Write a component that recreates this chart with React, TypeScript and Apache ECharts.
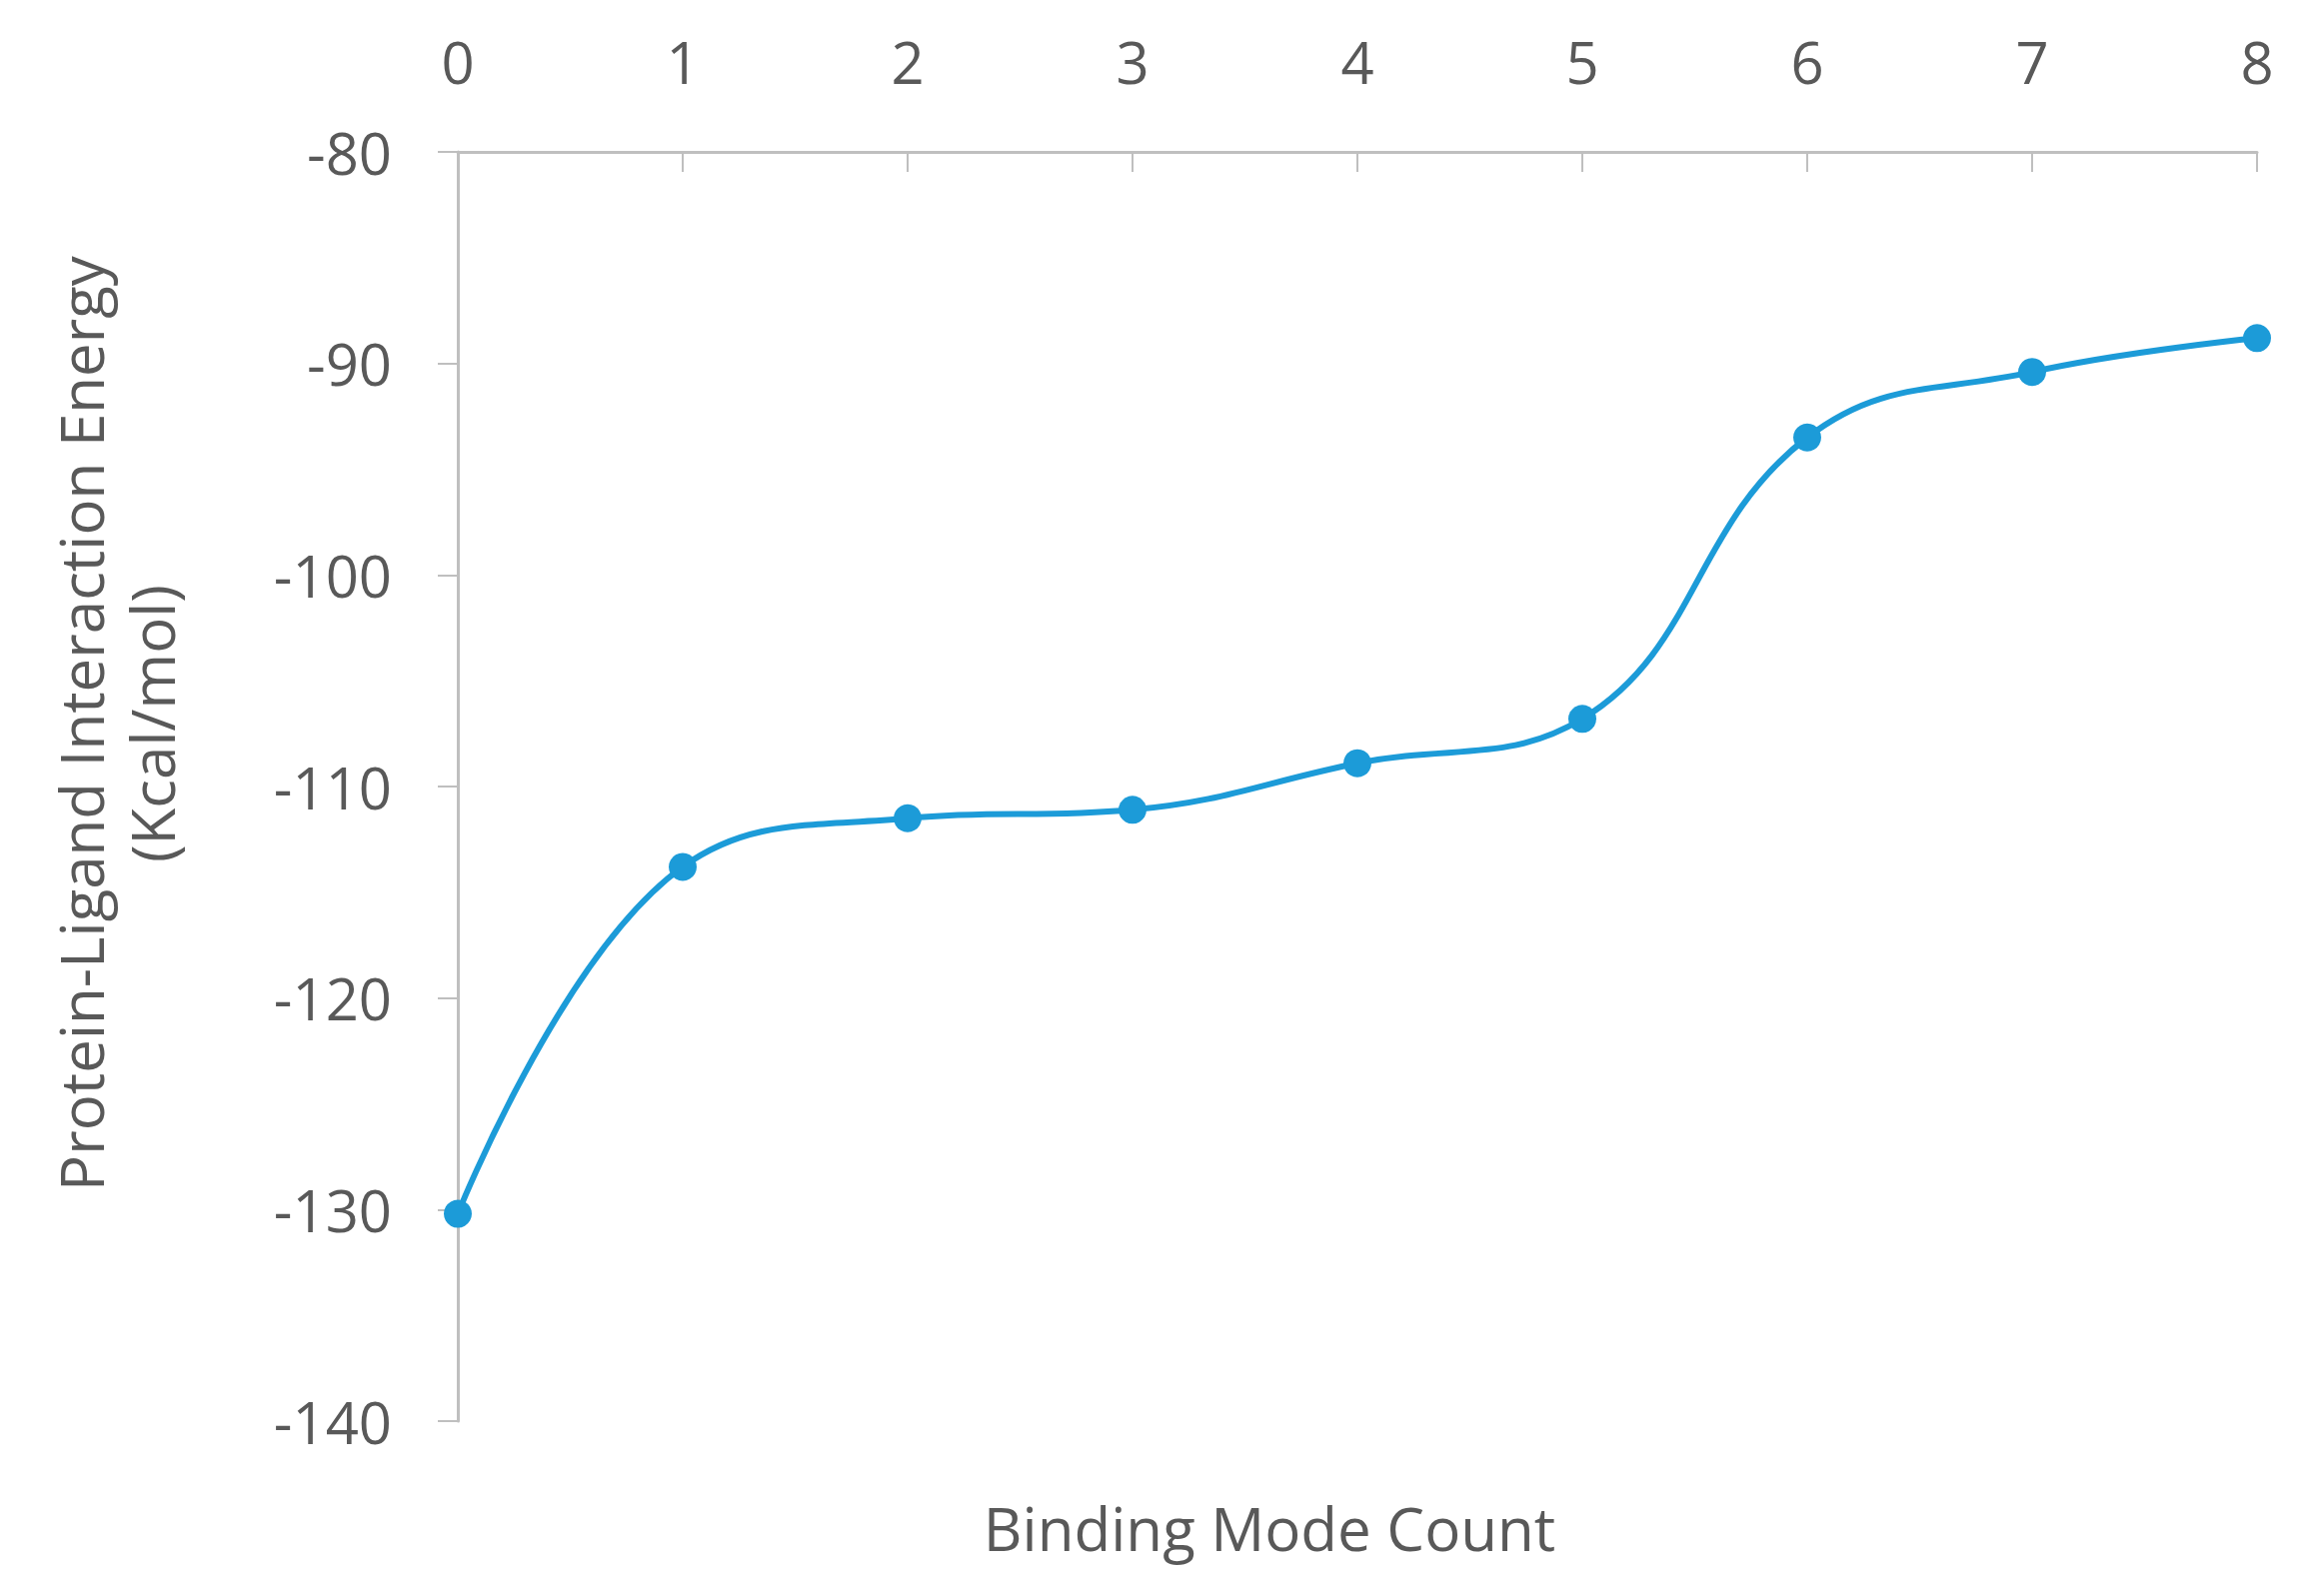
import React, { useEffect, useRef } from "react";
import * as echarts from "echarts";

const bindingModes: number[] = [0, 1, 2, 3, 4, 5, 6, 7, 8];
const energies: number[] = [-130.2, -113.8, -111.5, -111.1, -108.9, -106.8, -93.5, -90.4, -88.8];
const yTicks = { min: -140, max: -80, interval: 10 };
const xTicks = { min: 0, max: 8, interval: 1 };
const xAxisTitle = "Binding Mode Count";
const yAxisTitle = "Protein-Ligand Interaction Energy\n(Kcal/mol)";

const FONT = "Open Sans";
const TEXT = "#595959";
const AXIS = "#bfbfbf";
const BLUE = "#1c9bd8";

export default function App() {
  const ref = useRef<HTMLDivElement>(null);
  useEffect(() => {
    if (!ref.current) return;
    const chart = echarts.init(ref.current, undefined, { renderer: "svg" });
    chart.setOption({
      animation: false,
      backgroundColor: "#ffffff",
      grid: { left: 450, top: 144, width: 1800, height: 1270, containLabel: false },
      xAxis: {
        type: "value",
        position: "top",
        min: xTicks.min,
        max: xTicks.max,
        interval: xTicks.interval,
        axisLine: { show: true, onZero: false, lineStyle: { color: AXIS, width: 3 } },
        axisTick: { show: true, inside: true, length: 20, lineStyle: { color: AXIS, width: 2 } },
        axisLabel: { color: TEXT, fontFamily: FONT, fontSize: 58, margin: 62 },
        splitLine: { show: false },
      },
      yAxis: {
        type: "value",
        min: yTicks.min,
        max: yTicks.max,
        interval: yTicks.interval,
        axisLine: { show: true, onZero: false, lineStyle: { color: AXIS, width: 3 } },
        axisTick: { show: true, inside: false, length: 20, lineStyle: { color: AXIS, width: 2 } },
        axisLabel: { color: TEXT, fontFamily: FONT, fontSize: 58, margin: 66 },
        splitLine: { show: false },
      },
      graphic: [
        {
          type: "text",
          x: 108,
          y: 716,
          rotation: Math.PI / 2,
          style: {
            text: yAxisTitle,
            fill: TEXT,
            font: `60px "${FONT}"`,
            lineHeight: 71,
            textAlign: "center",
            textVerticalAlign: "middle",
          },
        },
        {
          type: "text",
          x: 1262,
          y: 1521,
          style: {
            text: xAxisTitle,
            fill: TEXT,
            font: `60px "${FONT}"`,
            textAlign: "center",
            textVerticalAlign: "middle",
          },
        },
      ],
      series: [
        {
          type: "line",
          data: bindingModes.map((x, i) => [x, energies[i]]),
          smooth: 0.42,
          symbol: "circle",
          symbolSize: 28,
          lineStyle: { color: BLUE, width: 6 },
          itemStyle: { color: BLUE },
        },
      ],
    });
    return () => chart.dispose();
  }, []);
  return <div ref={ref} style={{ width: 2300, height: 1581 }} />;
}
